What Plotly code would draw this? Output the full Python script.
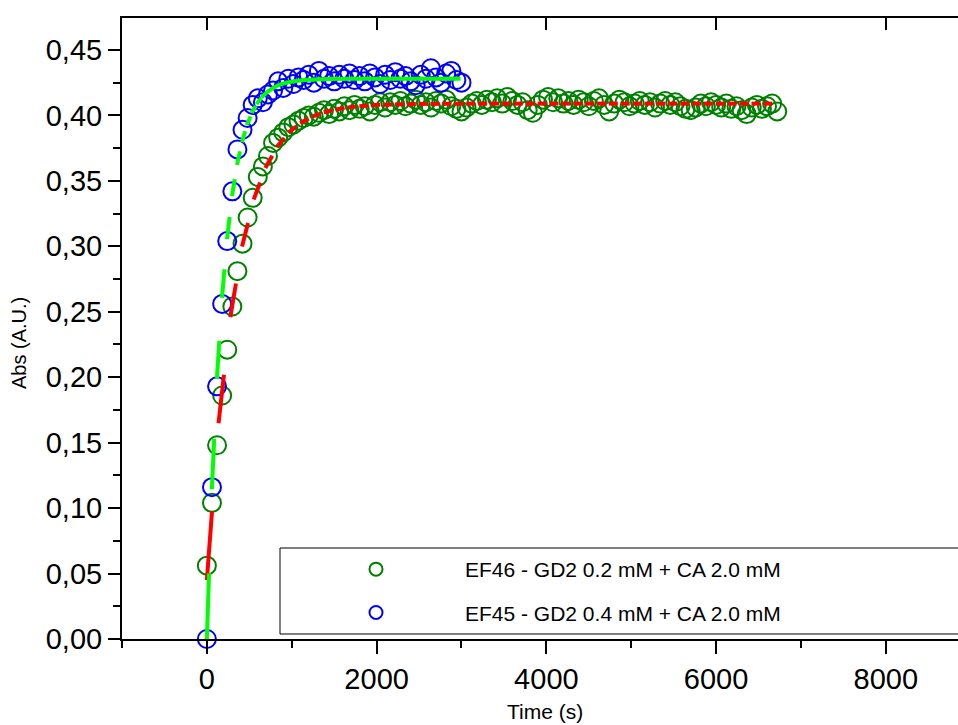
import math
import plotly.graph_objects as go

# ---------------- data ----------------
t_ef46 = [0, 60, 120, 180, 240, 300, 360, 420, 480, 540, 600, 660, 720, 780, 840, 900, 960, 1020,
          1080, 1140, 1200, 1260, 1320, 1380, 1440, 1500, 1560, 1620, 1680, 1740, 1800, 1860, 1920,
          1980, 2040, 2100, 2160, 2220, 2280, 2340, 2400, 2460, 2520, 2580, 2640, 2700, 2760, 2820,
          2880, 2940, 3000, 3060, 3120, 3180, 3240, 3300, 3360, 3420, 3480, 3540, 3600, 3660, 3720,
          3780, 3840, 3900, 3960, 4020, 4080, 4140, 4200, 4260, 4320, 4380, 4440, 4500, 4560, 4620,
          4680, 4740, 4800, 4860, 4920, 4980, 5040, 5100, 5160, 5220, 5280, 5340, 5400, 5460, 5520,
          5580, 5640, 5700, 5760, 5820, 5880, 5940, 6000, 6060, 6120, 6180, 6240, 6300, 6360, 6420,
          6480, 6540, 6600, 6660, 6720]
abs_ef46 = [0.056, 0.104, 0.148, 0.186, 0.221, 0.254, 0.281, 0.302, 0.322, 0.337, 0.353, 0.361,
            0.369, 0.379, 0.383, 0.387, 0.391, 0.393, 0.396, 0.398, 0.400, 0.399, 0.402, 0.404,
            0.401, 0.405, 0.403, 0.407, 0.404, 0.408, 0.405, 0.407, 0.403, 0.408, 0.410, 0.406,
            0.410, 0.408, 0.411, 0.407, 0.409, 0.412, 0.408, 0.410, 0.406, 0.411, 0.409, 0.412,
            0.407, 0.405, 0.403, 0.406, 0.409, 0.411, 0.408, 0.412, 0.410, 0.413, 0.409, 0.414,
            0.411, 0.408, 0.410, 0.404, 0.402, 0.408, 0.412, 0.414, 0.410, 0.413, 0.409, 0.411,
            0.408, 0.412, 0.410, 0.407, 0.411, 0.413, 0.408, 0.403, 0.409, 0.412, 0.410, 0.407,
            0.409, 0.411, 0.408, 0.410, 0.406, 0.409, 0.411, 0.408, 0.410, 0.407, 0.405, 0.404,
            0.406, 0.409, 0.407, 0.410, 0.408, 0.406, 0.409, 0.405, 0.407, 0.404, 0.401, 0.406,
            0.408, 0.405, 0.407, 0.409, 0.403]

t_ef45 = [0, 60, 120, 180, 240, 300, 360, 420, 480, 540, 600, 660, 720, 780, 840, 900, 960, 1020,
          1080, 1140, 1200, 1260, 1320, 1380, 1440, 1500, 1560, 1620, 1680, 1740, 1800, 1860, 1920,
          1980, 2040, 2100, 2160, 2220, 2280, 2340, 2400, 2460, 2520, 2580, 2640, 2700, 2760, 2820,
          2880, 2940, 3000]
abs_ef45 = [0.000, 0.116, 0.193, 0.256, 0.304, 0.342, 0.374, 0.389, 0.398, 0.408, 0.413, 0.410,
            0.416, 0.419, 0.426, 0.421, 0.428, 0.424, 0.429, 0.427, 0.431, 0.425, 0.434, 0.428,
            0.430, 0.426, 0.431, 0.428, 0.432, 0.427, 0.430, 0.426, 0.432, 0.429, 0.424, 0.431,
            0.427, 0.433, 0.428, 0.430, 0.426, 0.423, 0.431, 0.428, 0.436, 0.429, 0.425, 0.432,
            0.434, 0.427, 0.425]

# fitted curves
t_fit46 = [0, 140, 280, 420, 560, 700, 840, 980, 1120, 1260, 1400, 1540, 1680, 1820, 1960, 2100,
           2240, 2380, 2520, 2660, 2800, 2940, 3080, 3220, 3360, 3500, 3640, 3780, 3920, 4060,
           4200, 4340, 4480, 4620, 4760, 4900, 5040, 5180, 5320, 5460, 5600, 5740, 5880, 6020,
           6160, 6300, 6440, 6580, 6720]
y_fit46 = [0.0450, 0.1664, 0.2474, 0.3013, 0.3372, 0.3612, 0.3771, 0.3878, 0.3948, 0.3996,
           0.4027, 0.4048, 0.4062, 0.4071, 0.4078, 0.4082, 0.4084, 0.4086, 0.4088, 0.4088,
           0.4089, 0.4089, 0.4090, 0.4090, 0.4090, 0.4090, 0.4090, 0.4090, 0.4090, 0.4090,
           0.4090, 0.4090, 0.4090, 0.4090, 0.4090, 0.4090, 0.4090, 0.4090, 0.4090, 0.4090,
           0.4090, 0.4090, 0.4090, 0.4090, 0.4090, 0.4090, 0.4090, 0.4090, 0.4090]

t_fit45 = t_ef45
y_fit45 = [0.0000, 0.1159, 0.2004, 0.2621, 0.3070, 0.3398, 0.3637, 0.3811, 0.3938, 0.4031,
           0.4098, 0.4147, 0.4183, 0.4209, 0.4229, 0.4243, 0.4253, 0.4260, 0.4265, 0.4269,
           0.4272, 0.4274, 0.4276, 0.4277, 0.4278, 0.4279, 0.4279, 0.4279, 0.4280, 0.4280,
           0.4280, 0.4280, 0.4280, 0.4280, 0.4280, 0.4280, 0.4280, 0.4280, 0.4280, 0.4280,
           0.4280, 0.4280, 0.4280, 0.4280, 0.4280, 0.4280, 0.4280, 0.4280, 0.4280, 0.4280,
           0.4280]

name46 = "EF46 - GD2 0.2 mM + CA 2.0 mM"
name45 = "EF45 - GD2 0.4 mM + CA 2.0 mM"

# ---------------- layout constants ----------------
W, H = 958, 725
ML, MR, MT, MB = 122, 0, 18, 86
XR = [-1000, 8850]
YR = [0, 0.4744]
PW, PH = W - ML - MR, H - MT - MB
SX = PW / (XR[1] - XR[0])
SY = PH / (YR[1] - YR[0])

FONT = "Liberation Sans, Arial, sans-serif"


def segment_dashes(tx, ty, frac, cap=2.0):
    """Origin-like dashing: each fit segment drawn for its first part."""
    xs, ys = [], []
    for i in range(len(tx) - 1):
        x0, y0, x1, y1 = tx[i], ty[i], tx[i + 1], ty[i + 1]
        dxp, dyp = (x1 - x0) * SX, (y1 - y0) * SY
        L = math.hypot(dxp, dyp)
        if L == 0:
            continue
        ux, uy = dxp / L, dyp / L
        a = 0.0 if i == 0 else -cap
        b = frac * L + cap
        xs += [x0 + a * ux / SX, x0 + b * ux / SX, None]
        ys += [y0 + a * uy / SY, y0 + b * uy / SY, None]
    return xs, ys


fig = go.Figure()

fig.add_trace(go.Scatter(
    x=t_ef46, y=abs_ef46, mode="markers", showlegend=False,
    marker=dict(symbol="circle-open", size=18, color="#008000", line=dict(width=2)),
    cliponaxis=False))
fig.add_trace(go.Scatter(
    x=t_ef45, y=abs_ef45, mode="markers", showlegend=False,
    marker=dict(symbol="circle-open", size=18, color="#0000FF", line=dict(width=2)),
    cliponaxis=False))

rx, ry = segment_dashes(t_fit46, y_fit46, 0.42)
fig.add_trace(go.Scatter(x=rx, y=ry, mode="lines", showlegend=False,
                         line=dict(color="#FF0000", width=4), connectgaps=False))
gx, gy = segment_dashes(t_fit45, y_fit45, 0.42)
fig.add_trace(go.Scatter(x=gx, y=gy, mode="lines", showlegend=False,
                         line=dict(color="#00FF00", width=4), connectgaps=False))

# legend entries
fig.add_trace(go.Scatter(x=[None], y=[None], mode="markers", name=name46, legendgroup="a",
                         xaxis="x2",
                         marker=dict(symbol="circle-open", size=13, color="#008000",
                                     line=dict(width=2))))
fig.add_trace(go.Scatter(x=[None], y=[None], mode="markers", name=name45, legendgroup="b",
                         xaxis="x2",
                         marker=dict(symbol="circle-open", size=13, color="#0000FF",
                                     line=dict(width=2))))

axis_common = dict(showgrid=False, zeroline=False, showline=True, linecolor="black",
                   linewidth=2, tickcolor="black", tickwidth=2)

fig.update_layout(
    width=W, height=H,
    margin=dict(l=ML, r=MR, t=MT, b=MB, pad=0),
    paper_bgcolor="white", plot_bgcolor="white",
    separators=", ",
    font=dict(family=FONT, color="black"),
    xaxis=dict(range=XR, ticks="outside", ticklen=13, dtick=2000, tick0=0,
               tickfont=dict(size=29, family=FONT), tickformat="d",
               minor=dict(dtick=1000, tick0=0, ticks="outside", ticklen=7,
                          tickwidth=2, tickcolor="black"),
               **axis_common),
    xaxis2=dict(range=XR, overlaying="x", side="top", ticks="inside", ticklen=12,
                dtick=2000, tick0=0, showticklabels=False, **axis_common),
    yaxis=dict(range=YR, ticks="outside", ticklen=12, dtick=0.05, tick0=0,
               tickformat=".2f", tickfont=dict(size=29, family=FONT),
               minor=dict(dtick=0.025, tick0=0, ticks="outside", ticklen=7,
                          tickwidth=2, tickcolor="black"),
               **axis_common),
    legend=dict(x=(287 - ML) / PW, y=(MT + PH - 549) / PH, xanchor="left", yanchor="top",
                bgcolor="rgba(0,0,0,0)", borderwidth=0, itemwidth=168,
                tracegroupgap=13,
                font=dict(family=FONT, size=21, color="black")),
    shapes=[dict(type="rect", xref="paper", yref="paper",
                 x0=(280 - ML) / PW, x1=1.02,
                 y0=(MT + PH - 634) / PH, y1=(MT + PH - 548) / PH,
                 line=dict(color="black", width=1), fillcolor="rgba(0,0,0,0)",
                 layer="above")],
    annotations=[
        dict(text="Abs (A.U.)", textangle=-90, xref="paper", yref="paper",
             x=(19 - ML) / PW, y=(MT + PH - 343) / PH, xanchor="center", yanchor="middle",
             showarrow=False, font=dict(size=20, family=FONT)),
        dict(text="Time (s)", xref="paper", yref="paper",
             x=(545 - ML) / PW, y=(MT + PH - 711) / PH, xanchor="center", yanchor="middle",
             showarrow=False, font=dict(size=21, family=FONT)),
    ],
)

fig.write_html("out.html", config={"displayModeBar": False})
